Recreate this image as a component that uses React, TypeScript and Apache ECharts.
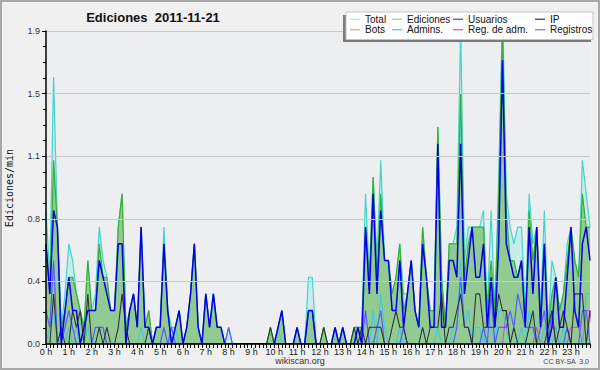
import React, { useEffect, useRef } from "react";
import * as echarts from "echarts";

const hourLabels = ["0 h","1 h","2 h","3 h","4 h","5 h","6 h","7 h","8 h","9 h","10 h","11 h","12 h","13 h","14 h","15 h","16 h","17 h","18 h","19 h","20 h","21 h","22 h","23 h"];
const yTickLabels = ["0.0","0.4","0.8","1.1","1.5","1.9"];
const seriesNames = ["Total","Ediciones","Usuarios","IP","Bots","Admins.","Reg. de adm.","Registros"];

// 10-minute samples, edits per minute
const total = [
  0.8,0.4,1.6,0.7,0.1,0.3,
  0.6,0.5,0.3,0.2,0.1,0.5,
  0.2,0.3,0.7,0.5,0.4,0.2,
  0.2,0.7,0.9,0.1,0.2,0.3,
  0.1,0.7,0.1,0.2,0.0,0.1,
  0.1,0.7,0.2,0.1,0.1,0.2,
  0.0,0.1,0.3,0.6,0.1,0.0,
  0.3,0.1,0.3,0.1,0.1,0.0,
  0.1,0.0,0.0,0.0,0.0,0.0,
  0.0,0.0,0.0,0.0,0.0,0.1,
  0.0,0.1,0.2,0.0,0.0,0.0,
  0.1,0.0,0.0,0.4,0.4,0.0,
  0.0,0.1,0.0,0.0,0.1,0.0,
  0.1,0.0,0.0,0.1,0.1,0.1,
  0.9,0.4,1.0,0.5,1.1,0.5,
  0.5,0.3,0.4,0.6,0.3,0.3,
  0.5,0.2,0.1,0.7,0.4,0.2,
  0.2,1.3,0.4,0.1,0.6,0.6,
  0.7,1.9,0.5,0.7,0.7,0.7,
  0.7,0.8,0.2,0.8,0.2,1.0,
  2.0,0.9,0.7,0.6,0.7,0.7,
  0.2,0.9,0.6,0.7,0.2,0.8,
  0.1,0.5,0.4,0.2,0.3,0.6,
  0.7,0.5,0.4,1.1,0.9,0.7,
];
const edits = [
  0.6,0.3,1.1,0.7,0.1,0.2,
  0.4,0.4,0.3,0.2,0.1,0.5,
  0.2,0.2,0.6,0.4,0.4,0.2,
  0.2,0.7,0.9,0.1,0.2,0.3,
  0.1,0.7,0.1,0.2,0.0,0.1,
  0.1,0.6,0.2,0.0,0.1,0.2,
  0.0,0.1,0.3,0.6,0.1,0.0,
  0.3,0.1,0.3,0.1,0.1,0.0,
  0.0,0.0,0.0,0.0,0.0,0.0,
  0.0,0.0,0.0,0.0,0.0,0.1,
  0.0,0.1,0.2,0.0,0.0,0.0,
  0.1,0.0,0.0,0.2,0.2,0.0,
  0.0,0.1,0.0,0.0,0.1,0.0,
  0.1,0.0,0.0,0.1,0.1,0.1,
  0.7,0.4,1.0,0.4,0.9,0.5,
  0.5,0.3,0.4,0.6,0.2,0.3,
  0.5,0.2,0.1,0.7,0.4,0.2,
  0.2,1.3,0.4,0.1,0.6,0.6,
  0.6,1.5,0.4,0.6,0.7,0.7,
  0.7,0.7,0.2,0.5,0.2,0.9,
  1.9,0.8,0.5,0.5,0.4,0.5,
  0.1,0.8,0.5,0.7,0.1,0.6,
  0.1,0.3,0.4,0.2,0.3,0.5,
  0.7,0.5,0.4,0.9,0.7,0.7,
];
const users = [
  0.6,0.3,0.8,0.7,0.0,0.2,
  0.4,0.2,0.2,0.0,0.1,0.2,
  0.2,0.2,0.5,0.4,0.3,0.2,
  0.2,0.6,0.6,0.0,0.2,0.3,
  0.1,0.7,0.1,0.1,0.0,0.1,
  0.1,0.6,0.2,0.0,0.1,0.2,
  0.0,0.1,0.3,0.6,0.1,0.0,
  0.3,0.1,0.3,0.1,0.1,0.0,
  0.0,0.0,0.0,0.0,0.0,0.0,
  0.0,0.0,0.0,0.0,0.0,0.0,
  0.0,0.1,0.2,0.0,0.0,0.0,
  0.1,0.0,0.0,0.2,0.2,0.0,
  0.0,0.0,0.0,0.0,0.1,0.0,
  0.1,0.0,0.0,0.0,0.1,0.0,
  0.7,0.3,0.9,0.3,0.8,0.5,
  0.5,0.2,0.2,0.5,0.1,0.3,
  0.5,0.2,0.1,0.6,0.4,0.1,
  0.1,1.2,0.1,0.1,0.5,0.5,
  0.4,1.2,0.3,0.5,0.7,0.4,
  0.4,0.6,0.1,0.4,0.1,0.6,
  1.7,0.6,0.5,0.4,0.4,0.5,
  0.1,0.7,0.3,0.7,0.1,0.6,
  0.0,0.1,0.4,0.1,0.1,0.4,
  0.7,0.2,0.1,0.6,0.7,0.5,
];
const ip = [
  0.0,0.0,0.3,0.0,0.1,0.0,
  0.0,0.2,0.1,0.2,0.0,0.3,
  0.0,0.0,0.1,0.0,0.1,0.0,
  0.0,0.1,0.3,0.1,0.0,0.0,
  0.0,0.0,0.0,0.1,0.0,0.0,
  0.0,0.0,0.0,0.0,0.0,0.0,
  0.0,0.0,0.0,0.0,0.0,0.0,
  0.0,0.0,0.0,0.0,0.0,0.0,
  0.0,0.0,0.0,0.0,0.0,0.0,
  0.0,0.0,0.0,0.0,0.0,0.1,
  0.0,0.0,0.0,0.0,0.0,0.0,
  0.0,0.0,0.0,0.0,0.0,0.0,
  0.0,0.1,0.0,0.0,0.0,0.0,
  0.0,0.0,0.0,0.1,0.0,0.1,
  0.0,0.1,0.1,0.1,0.1,0.0,
  0.0,0.1,0.2,0.1,0.1,0.0,
  0.0,0.0,0.0,0.1,0.0,0.1,
  0.1,0.1,0.3,0.0,0.1,0.1,
  0.2,0.3,0.1,0.1,0.0,0.3,
  0.3,0.1,0.1,0.1,0.1,0.3,
  0.2,0.2,0.0,0.1,0.0,0.0,
  0.0,0.1,0.2,0.0,0.0,0.0,
  0.1,0.2,0.0,0.1,0.2,0.1,
  0.0,0.3,0.3,0.3,0.0,0.2,
];
const bots = [
  0,0,0,0,0,0, 0,0,0,0,0,0, 0,0,0,0,0,0, 0,0,0,0,0,0,
  0,0,0,0,0,0, 0,0,0,0,0,0, 0,0,0,0,0,0, 0,0,0,0,0,0,
  0,0,0,0,0,0, 0,0,0,0,0,0, 0,0,0,0,0,0, 0,0,0,0,0,0,
  0,0,0,0,0,0, 0,0,0,0,0,0, 0,0,0,0,0,0, 0,0,0,0,0,0,
  0,0,0,0,0,0, 0,0,0,0,0,0, 0,0,0,0,0,0, 0,0,0,0,0,0,
  0,0,0,0,0,0, 0,0,0,0,0,0, 0,0,0,0,0,0, 0,0,0,0,0,0,
];
const admins = [
  0.0,0.1,0.2,0.0,0.0,0.0,
  0.1,0.0,0.1,0.0,0.0,0.1,
  0.0,0.0,0.1,0.1,0.0,0.0,
  0.0,0.0,0.0,0.0,0.0,0.0,
  0.0,0.1,0.0,0.0,0.0,0.0,
  0.0,0.0,0.0,0.0,0.1,0.0,
  0.0,0.0,0.0,0.0,0.0,0.0,
  0.0,0.0,0.0,0.0,0.0,0.0,
  0.0,0.0,0.0,0.0,0.0,0.0,
  0.0,0.0,0.0,0.0,0.0,0.0,
  0.0,0.1,0.0,0.0,0.0,0.0,
  0.0,0.0,0.0,0.0,0.0,0.0,
  0.0,0.0,0.0,0.0,0.0,0.0,
  0.0,0.0,0.0,0.0,0.0,0.0,
  0.0,0.0,0.2,0.0,0.3,0.1,
  0.0,0.0,0.0,0.1,0.0,0.0,
  0.0,0.0,0.0,0.1,0.0,0.0,
  0.0,0.1,0.0,0.0,0.0,0.1,
  0.1,0.5,0.1,0.2,0.0,0.1,
  0.1,0.0,0.2,0.1,0.0,0.2,
  0.2,0.1,0.0,0.1,0.0,0.1,
  0.0,0.2,0.1,0.0,0.0,0.1,
  0.0,0.0,0.1,0.0,0.1,0.0,
  0.0,0.0,0.0,0.0,0.3,0.3,
];
const regAdm = [
  0,0,0,0,0,0, 0,0,0,0,0,0, 0,0,0,0,0,0, 0,0,0,0,0,0,
  0,0,0,0,0,0, 0,0,0,0,0,0, 0,0,0,0,0,0, 0,0,0,0,0,0,
  0,0,0,0,0,0, 0,0,0,0,0,0, 0,0,0,0,0,0, 0,0,0,0,0,0,
  0,0,0,0,0,0, 0,0,0,0,0,0, 0,0,0,0,0,0, 0,0,0,0,0,0,
  0,0,0,0,0,0,
  0,0,0,0,0,0,
  0,0,0,0,0,0,
  0.0,0.0,0.0,0.0,0.0,0.0,
  0.0,0.2,0.0,0.0,0.0,0.0,
  0.0,0.0,0.0,0.1,0.0,0.0,
  0.0,0.1,0.1,0.0,0.0,0.0,
  0.1,0.1,0.1,0.0,0.2,0.2,
  0.0,0.2,0.0,0.0,0.0,0.0,
  0.0,0.0,0.0,0.0,0.0,0.0,
];
const registros = [
  0.2,0.1,0.5,0.0,0.0,0.1,
  0.2,0.1,0.0,0.0,0.0,0.0,
  0.0,0.1,0.1,0.1,0.0,0.0,
  0.0,0.0,0.0,0.0,0.0,0.0,
  0.0,0.0,0.0,0.0,0.0,0.0,
  0.0,0.1,0.0,0.1,0.0,0.0,
  0.0,0.0,0.0,0.0,0.0,0.0,
  0.0,0.0,0.0,0.0,0.0,0.0,
  0.1,0.0,0.0,0.0,0.0,0.0,
  0.0,0.0,0.0,0.0,0.0,0.0,
  0.0,0.0,0.0,0.0,0.0,0.0,
  0.0,0.0,0.0,0.2,0.2,0.0,
  0.0,0.0,0.0,0.0,0.0,0.0,
  0.0,0.0,0.0,0.0,0.0,0.0,
  0.2,0.0,0.0,0.1,0.2,0.0,
  0.0,0.0,0.0,0.0,0.1,0.0,
  0.0,0.0,0.0,0.0,0.0,0.0,
  0.0,0.0,0.0,0.0,0.0,0.0,
  0.1,0.4,0.1,0.1,0.0,0.0,
  0.0,0.1,0.0,0.3,0.0,0.1,
  0.1,0.1,0.2,0.1,0.3,0.2,
  0.1,0.1,0.1,0.0,0.1,0.2,
  0.0,0.2,0.0,0.0,0.0,0.1,
  0.0,0.0,0.0,0.2,0.2,0.0,
];

const colors: Record<string, string> = {
  Total: "#40d6cc",
  Ediciones: "#34b034",
  Usuarios: "#0000e6",
  IP: "#333333",
  Bots: "#f0a040",
  "Admins.": "#3cc8e0",
  "Reg. de adm.": "#cc44dd",
  Registros: "#5a5aff",
};
const legendSwatch: Record<string, string> = {
  Total: "#aee8e0",
  Ediciones: "#8fd48f",
  Usuarios: "#4040d8",
  IP: "#333333",
  Bots: "#f0a050",
  "Admins.": "#40c8e0",
  "Reg. de adm.": "#d050e0",
  Registros: "#7070f0",
};

const FONT = "Liberation Sans, Arial, sans-serif";

export default function App() {
  const ref = useRef<HTMLDivElement>(null);
  useEffect(() => {
    document.body.style.margin = "0";
    if (!ref.current) return;
    const chart = echarts.init(ref.current, undefined, { renderer: "svg" });
    const cats: string[] = [];
    hourLabels.forEach((_, h) => {
      for (let m = 0; m < 60; m += 10) cats.push(`${h}:${m < 10 ? "0" + m : m}`);
    });
    const lineSeries = (name: string, data: number[], width: number, z: number, area?: string) => ({
      name,
      type: "line",
      data,
      symbol: "none",
      z,
      lineStyle: { color: colors[name], width },
      itemStyle: { color: colors[name] },
      areaStyle: area ? { color: area, opacity: 1 } : undefined,
      clip: true,
    });
    const cols = [
      { left: 350, names: [seriesNames[0], seriesNames[4]] },
      { left: 392, names: [seriesNames[1], seriesNames[5]] },
      { left: 453, names: [seriesNames[2], seriesNames[6]] },
      { left: 535, names: [seriesNames[3], seriesNames[7]] },
    ];
    const legends = cols.map((c) => ({
      show: true,
      orient: "vertical",
      left: c.left,
      top: 14,
      padding: 0,
      itemGap: 0,
      itemWidth: 10,
      itemHeight: 1.2,
      selectedMode: false,
      z: 200,
      textStyle: { fontFamily: FONT, fontSize: 10, color: "#111", lineHeight: 10.5, padding: [0, 0, 0, 0] },
      data: c.names.map((n) => ({ name: n, icon: "rect", itemStyle: { color: legendSwatch[n] } })),
    }));
    chart.setOption({
      animation: false,
      backgroundColor: "#f0f0f0",
      legend: legends,
      grid: {
        left: 46, right: 10, top: 31, height: 313,
        show: true, backgroundColor: "#eceef0", borderWidth: 0,
      },
      xAxis: {
        type: "category",
        data: cats,
        boundaryGap: false,
        z: 10,
        axisLine: { lineStyle: { color: "#000", width: 1.5 } },
        axisTick: { interval: 0, length: 4, lineStyle: { color: "#000", width: 1 } },
        axisLabel: {
          interval: 0,
          margin: 3,
          fontFamily: FONT,
          fontSize: 9,
          color: "#222",
          formatter: (_v: string, idx: number) => (idx % 6 === 0 ? hourLabels[idx / 6] : ""),
        },
        splitLine: { show: false },
      },
      yAxis: {
        type: "value",
        min: 0,
        max: 1.875,
        interval: 0.375,
        z: 10,
        axisLine: { show: true, lineStyle: { color: "#000", width: 1.5 } },
        axisTick: { show: true, length: 4, lineStyle: { color: "#000" } },
        minorTick: { show: true, splitNumber: 4, length: 3, lineStyle: { color: "#000" } },
        axisLabel: {
          margin: 6,
          fontFamily: FONT,
          fontSize: 9,
          color: "#333",
          formatter: (v: number) => yTickLabels[Math.round(v / 0.375)],
        },
        splitLine: { show: true, lineStyle: { color: "#c8c8c8", width: 1 } },
      },
      graphic: [
        {
          type: "text", x: 153, y: 17, z: 100,
          style: { text: "Ediciones  2011-11-21", font: `bold 13px ${FONT}`, fill: "#111", align: "center", verticalAlign: "middle" },
        },
        {
          type: "text", x: 9, y: 188, rotation: Math.PI / 2, z: 100,
          style: { text: "Ediciones/min", font: "10px 'DejaVu Sans Mono', monospace", fill: "#111", align: "center", verticalAlign: "middle" },
        },
        {
          type: "text", x: 300, y: 361, z: 100,
          style: { text: "wikiscan.org", font: `9px ${FONT}`, fill: "#333", align: "center", verticalAlign: "middle" },
        },
        {
          type: "text", x: 589, y: 361, z: 100,
          style: { text: "CC BY-SA  3.0", font: `7px ${FONT}`, fill: "#444", align: "right", verticalAlign: "middle" },
        },
        {
          type: "rect", z: 150, shape: { x: 343, y: 15, width: 248, height: 27 },
          style: { fill: "#7a7a7a" },
        },
        {
          type: "rect", z: 151, shape: { x: 346, y: 12, width: 247, height: 27.5 },
          style: { fill: "#ffffff", stroke: "#c4c4c4", lineWidth: 1 },
        },
        {
          type: "rect", z: 160, shape: { x: 1, y: 1, width: 598, height: 368 },
          style: { fill: "none", stroke: "#a8a8a8", lineWidth: 2 },
        },
      ],
      series: [
        lineSeries("Total", total, 1.2, 2, "#c8ecea"),
        lineSeries("Ediciones", edits, 1.2, 3, "#92cb92"),
        lineSeries("Bots", bots, 1, 4),
        lineSeries("Reg. de adm.", regAdm, 1, 5),
        lineSeries("Admins.", admins, 1, 6),
        lineSeries("Registros", registros, 1.2, 7),
        lineSeries("IP", ip, 1.1, 8),
        lineSeries("Usuarios", users, 1.5, 9),
      ],
    });
    return () => chart.dispose();
  }, []);
  return <div ref={ref} style={{ width: 600, height: 370 }} />;
}
